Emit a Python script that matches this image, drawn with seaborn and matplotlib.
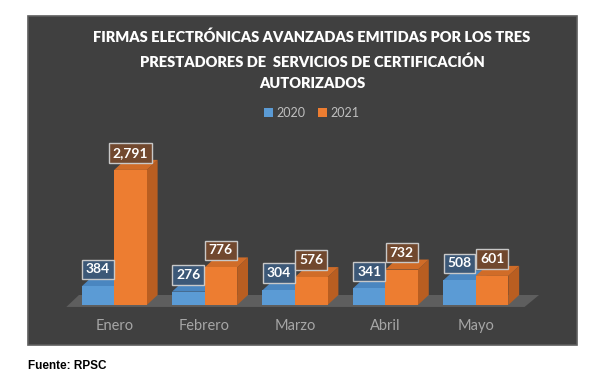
import matplotlib
matplotlib.use("Agg")
import matplotlib.pyplot as plt
import seaborn as sns
import pandas as pd
from matplotlib.patches import Polygon, Rectangle

# datos del grafico
meses = ["Enero", "Febrero", "Marzo", "Abril", "Mayo"]
anios = ["2020", "2021"]
valores_2020 = [384, 276, 304, 341, 508]
valores_2021 = [2791, 776, 576, 732, 601]

titulo = ("FIRMAS ELECTRÓNICAS AVANZADAS EMITIDAS POR LOS TRES\n"
          "PRESTADORES DE  SERVICIOS DE CERTIFICACIÓN\n"
          "AUTORIZADOS")
fuente = "Fuente: RPSC"

df = pd.DataFrame({
    "Mes": meses * 2,
    "Año": [anios[0]] * len(meses) + [anios[1]] * len(meses),
    "Firmas": valores_2020 + valores_2021,
})

colores = {"2020": "#5b9bd5", "2021": "#ed7d31"}
lados = {"2020": "#41719c", "2021": "#b95e21"}
techos = {"2020": "#4a86c0", "2021": "#d06c28"}
cajas = {"2020": "#3c5877", "2021": "#71482e"}

sns.set_theme(style="dark")
plt.rcParams["font.family"] = ["Lato", "DejaVu Sans"]

fig = plt.figure(figsize=(6.08, 3.75), dpi=100)
fig.patch.set_facecolor("white")

# panel oscuro
fig.add_artist(Rectangle((28 / 608, 1 - 345 / 375), 549 / 608, 329 / 375,
                         transform=fig.transFigure, facecolor="#404040",
                         edgecolor="#5e5e5e", lw=1.2, zorder=0))

ax = fig.add_axes([60 / 608, 1 - 305 / 375, 470 / 608, 165 / 375])
ax.set_facecolor("none")

sns.barplot(data=df, x="Mes", y="Firmas", hue="Año", hue_order=anios,
            palette=colores, width=0.72, saturation=1, linewidth=0,
            zorder=3, ax=ax)

# efecto 3D
dx, dy = 0.12, 207
for anio, cont in zip(anios, ax.containers):
    for barra in cont.patches:
        x0 = barra.get_x()
        w = barra.get_width()
        x1 = x0 + w
        h = barra.get_height()
        ax.add_patch(Polygon([(x1, 0), (x1 + dx, dy), (x1 + dx, h + dy), (x1, h)],
                             closed=True, facecolor=lados[anio], lw=0,
                             zorder=2, clip_on=False))
        ax.add_patch(Polygon([(x0, h), (x1, h), (x1 + dx, h + dy), (x0 + dx, h + dy)],
                             closed=True, facecolor=techos[anio], lw=0,
                             zorder=2, clip_on=False))
        ax.annotate(f"{h:,.0f}", (x0 + w / 2, h + dy), xytext=(0, 5),
                    textcoords="offset points", ha="center", va="center",
                    color="white", fontsize=10, fontweight="bold", zorder=6,
                    bbox=dict(boxstyle="square,pad=0.28", facecolor=cajas[anio],
                              edgecolor="#c8c8c8", lw=1))

# piso
ax.add_patch(Polygon([(-0.53, -40), (4.54, -40), (4.54 + 0.16, dy), (-0.53 + 0.14, dy)],
                     closed=True, facecolor="#5e5e5e", lw=0, zorder=1, clip_on=False))

ax.set_xlim(-0.6, 4.6)
ax.set_ylim(0, 3409)
ax.set_yticks([])
ax.set_xlabel("")
ax.set_ylabel("")
ax.grid(False)
for s in ax.spines.values():
    s.set_visible(False)
ax.tick_params(axis="x", colors="#a6a6a6", length=0, pad=10, labelsize=10.5)

ax.legend(loc="center", bbox_to_anchor=(312 / 608, 1 - 113 / 375),
          bbox_transform=fig.transFigure, ncol=2, frameon=False,
          handlelength=0.7, handleheight=0.7, handletextpad=0.3,
          columnspacing=1.0, fontsize=9, labelcolor="#bfbfbf")

fig.text(312 / 608, 1 - 60 / 375, titulo, ha="center", va="center",
         color="white", fontsize=10.5, fontweight="heavy", linespacing=1.8)
fig.text(28 / 608, 1 - 366 / 375, fuente, ha="left", va="center",
         color="black", fontsize=8.5, fontweight="bold", family="Liberation Sans")

fig.savefig("out.png", dpi=100)
